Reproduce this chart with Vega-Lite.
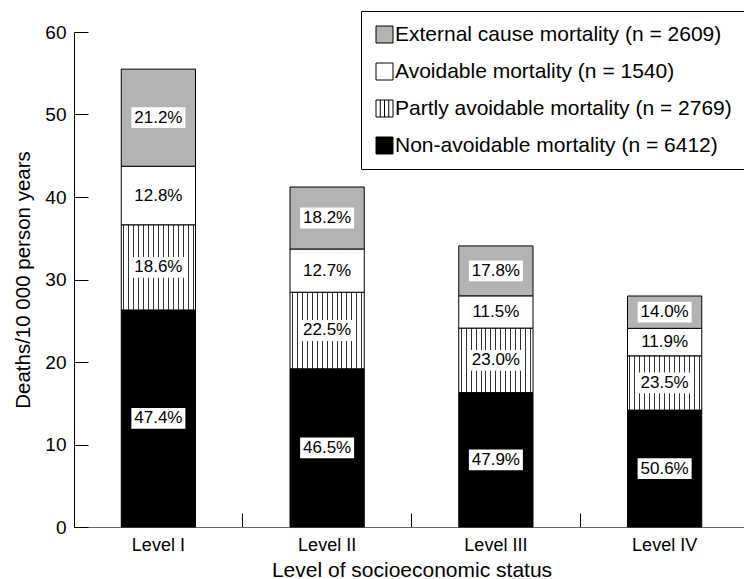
{
  "$schema": "https://vega.github.io/schema/vega-lite/v6.json",
  "width": 675,
  "height": 495,
  "padding": {"left": 13, "top": 10, "right": 0, "bottom": 0},
  "config": {
    "view": {"stroke": null},
    "font": "Liberation Sans",
    "axis": {"grid": false, "labelColor": "black", "titleColor": "black", "titleFontWeight": "normal", "tickColor": "black"},
    "axisY": {"domainColor": "black", "tickSize": -14, "labelFontSize": 19, "labelPadding": 22, "titleFontSize": 20.5, "titlePadding": 11},
    "axisX": {"domainColor": "#666666", "tickSize": -14, "bandPosition": 0, "labelAngle": 0, "labelFontSize": 18, "labelPadding": 23, "titleFontSize": 21, "titlePadding": 5},
    "legend": {
      "orient": "none",
      "legendX": 287,
      "legendY": -21,
      "symbolSize": 289,
      "symbolStrokeWidth": 1,
      "symbolOpacity": 1,
      "labelFontSize": 21,
      "labelColor": "black",
      "labelOffset": 0,
      "labelLimit": 0,
      "strokeColor": "black",
      "fillColor": "white",
      "padding": 13,
      "rowPadding": 15
    }
  },
  "data": {
    "values": [
      {"level": "Level I", "cause": "Non-avoidable mortality (n = 6412)", "rank": 1, "value": 26.31, "pct": "47.4%"},
      {"level": "Level I", "cause": "Partly avoidable mortality (n = 2769)", "rank": 2, "value": 10.32, "pct": "18.6%"},
      {"level": "Level I", "cause": "Avoidable mortality (n = 1540)", "rank": 3, "value": 7.10, "pct": "12.8%"},
      {"level": "Level I", "cause": "External cause mortality (n = 2609)", "rank": 4, "value": 11.77, "pct": "21.2%"},
      {"level": "Level II", "cause": "Non-avoidable mortality (n = 6412)", "rank": 1, "value": 19.18, "pct": "46.5%"},
      {"level": "Level II", "cause": "Partly avoidable mortality (n = 2769)", "rank": 2, "value": 9.28, "pct": "22.5%"},
      {"level": "Level II", "cause": "Avoidable mortality (n = 1540)", "rank": 3, "value": 5.24, "pct": "12.7%"},
      {"level": "Level II", "cause": "External cause mortality (n = 2609)", "rank": 4, "value": 7.51, "pct": "18.2%"},
      {"level": "Level III", "cause": "Non-avoidable mortality (n = 6412)", "rank": 1, "value": 16.29, "pct": "47.9%"},
      {"level": "Level III", "cause": "Partly avoidable mortality (n = 2769)", "rank": 2, "value": 7.82, "pct": "23.0%"},
      {"level": "Level III", "cause": "Avoidable mortality (n = 1540)", "rank": 3, "value": 3.91, "pct": "11.5%"},
      {"level": "Level III", "cause": "External cause mortality (n = 2609)", "rank": 4, "value": 6.05, "pct": "17.8%"},
      {"level": "Level IV", "cause": "Non-avoidable mortality (n = 6412)", "rank": 1, "value": 14.17, "pct": "50.6%"},
      {"level": "Level IV", "cause": "Partly avoidable mortality (n = 2769)", "rank": 2, "value": 6.58, "pct": "23.5%"},
      {"level": "Level IV", "cause": "Avoidable mortality (n = 1540)", "rank": 3, "value": 3.33, "pct": "11.9%"},
      {"level": "Level IV", "cause": "External cause mortality (n = 2609)", "rank": 4, "value": 3.92, "pct": "14.0%"}
    ]
  },
  "transform": [
    {"stack": "value", "groupby": ["level"], "sort": [{"field": "rank", "order": "ascending"}], "as": ["v0", "v1"]},
    {"calculate": "(datum.v0 + datum.v1) / 2", "as": "vmid"}
  ],
  "encoding": {
    "x": {
      "field": "level",
      "type": "nominal",
      "sort": ["Level I", "Level II", "Level III", "Level IV"],
      "scale": {"paddingInner": 0, "paddingOuter": 0},
      "title": "Level of socioeconomic status"
    }
  },
  "layer": [
    {
      "mark": {"type": "bar", "stroke": "black", "strokeWidth": 1, "width": {"band": 0.44}},
      "encoding": {
        "y": {"field": "v0", "type": "quantitative", "scale": {"domain": [0, 60]}, "title": "Deaths/10 000 person years", "axis": {"values": [0, 10, 20, 30, 40, 50, 60]}},
        "y2": {"field": "v1"},
        "color": {
          "field": "cause",
          "type": "nominal",
          "title": null,
          "condition": {
            "test": "datum.cause === 'Partly avoidable mortality (n = 2769)'",
            "value": {
              "gradient": "linear", "x1": 0, "x2": 1, "y1": 0, "y2": 0,
              "stops": [
                {"offset": 0, "color": "white"},
                {"offset": 0.0265, "color": "white"}, {"offset": 0.0265, "color": "#333333"}, {"offset": 0.0401, "color": "#333333"}, {"offset": 0.0401, "color": "white"},
                {"offset": 0.0932, "color": "white"}, {"offset": 0.0932, "color": "#333333"}, {"offset": 0.1068, "color": "#333333"}, {"offset": 0.1068, "color": "white"},
                {"offset": 0.1599, "color": "white"}, {"offset": 0.1599, "color": "#333333"}, {"offset": 0.1735, "color": "#333333"}, {"offset": 0.1735, "color": "white"},
                {"offset": 0.2265, "color": "white"}, {"offset": 0.2265, "color": "#333333"}, {"offset": 0.2401, "color": "#333333"}, {"offset": 0.2401, "color": "white"},
                {"offset": 0.2932, "color": "white"}, {"offset": 0.2932, "color": "#333333"}, {"offset": 0.3068, "color": "#333333"}, {"offset": 0.3068, "color": "white"},
                {"offset": 0.3599, "color": "white"}, {"offset": 0.3599, "color": "#333333"}, {"offset": 0.3735, "color": "#333333"}, {"offset": 0.3735, "color": "white"},
                {"offset": 0.4265, "color": "white"}, {"offset": 0.4265, "color": "#333333"}, {"offset": 0.4401, "color": "#333333"}, {"offset": 0.4401, "color": "white"},
                {"offset": 0.4932, "color": "white"}, {"offset": 0.4932, "color": "#333333"}, {"offset": 0.5068, "color": "#333333"}, {"offset": 0.5068, "color": "white"},
                {"offset": 0.5599, "color": "white"}, {"offset": 0.5599, "color": "#333333"}, {"offset": 0.5735, "color": "#333333"}, {"offset": 0.5735, "color": "white"},
                {"offset": 0.6265, "color": "white"}, {"offset": 0.6265, "color": "#333333"}, {"offset": 0.6401, "color": "#333333"}, {"offset": 0.6401, "color": "white"},
                {"offset": 0.6932, "color": "white"}, {"offset": 0.6932, "color": "#333333"}, {"offset": 0.7068, "color": "#333333"}, {"offset": 0.7068, "color": "white"},
                {"offset": 0.7599, "color": "white"}, {"offset": 0.7599, "color": "#333333"}, {"offset": 0.7735, "color": "#333333"}, {"offset": 0.7735, "color": "white"},
                {"offset": 0.8265, "color": "white"}, {"offset": 0.8265, "color": "#333333"}, {"offset": 0.8401, "color": "#333333"}, {"offset": 0.8401, "color": "white"},
                {"offset": 0.8932, "color": "white"}, {"offset": 0.8932, "color": "#333333"}, {"offset": 0.9068, "color": "#333333"}, {"offset": 0.9068, "color": "white"},
                {"offset": 0.9599, "color": "white"}, {"offset": 0.9599, "color": "#333333"}, {"offset": 0.9735, "color": "#333333"}, {"offset": 0.9735, "color": "white"},
                {"offset": 1, "color": "white"}
              ]
            }
          },
          "scale": {
            "domain": ["External cause mortality (n = 2609)", "Avoidable mortality (n = 1540)", "Partly avoidable mortality (n = 2769)", "Non-avoidable mortality (n = 6412)"],
            "range": ["#b3b3b3", "white", "white", "black"]
          }
        }
      }
    },
    {
      "mark": {"type": "point", "filled": true, "opacity": 0, "stroke": "black", "strokeWidth": 1},
      "encoding": {
        "y": {"field": "vmid", "type": "quantitative", "title": "Deaths/10 000 person years"},
        "color": {"field": "cause", "type": "nominal", "title": null},
        "shape": {
          "field": "cause",
          "type": "nominal",
          "title": null,
          "scale": {
            "domain": ["External cause mortality (n = 2609)", "Avoidable mortality (n = 1540)", "Partly avoidable mortality (n = 2769)", "Non-avoidable mortality (n = 6412)"],
            "range": ["M-1,-1H1V1H-1Z", "M-1,-1H1V1H-1Z", "M-1,-1H1V1H-1Z M-0.5,-1V1 M0,-1V1 M0.5,-1V1", "M-1,-1H1V1H-1Z"]
          }
        }
      }
    },
    {
      "mark": {"type": "point", "shape": "M-1,-0.385L1,-0.385L1,0.385L-1,0.385Z", "filled": true, "fill": "white", "opacity": 1, "size": 2916, "strokeWidth": 0},
      "encoding": {
        "y": {"field": "vmid", "type": "quantitative", "title": "Deaths/10 000 person years"}
      }
    },
    {
      "mark": {"type": "text", "fontSize": 17, "color": "black"},
      "encoding": {
        "y": {"field": "vmid", "type": "quantitative", "title": "Deaths/10 000 person years"},
        "text": {"field": "pct"}
      }
    }
  ]
}
